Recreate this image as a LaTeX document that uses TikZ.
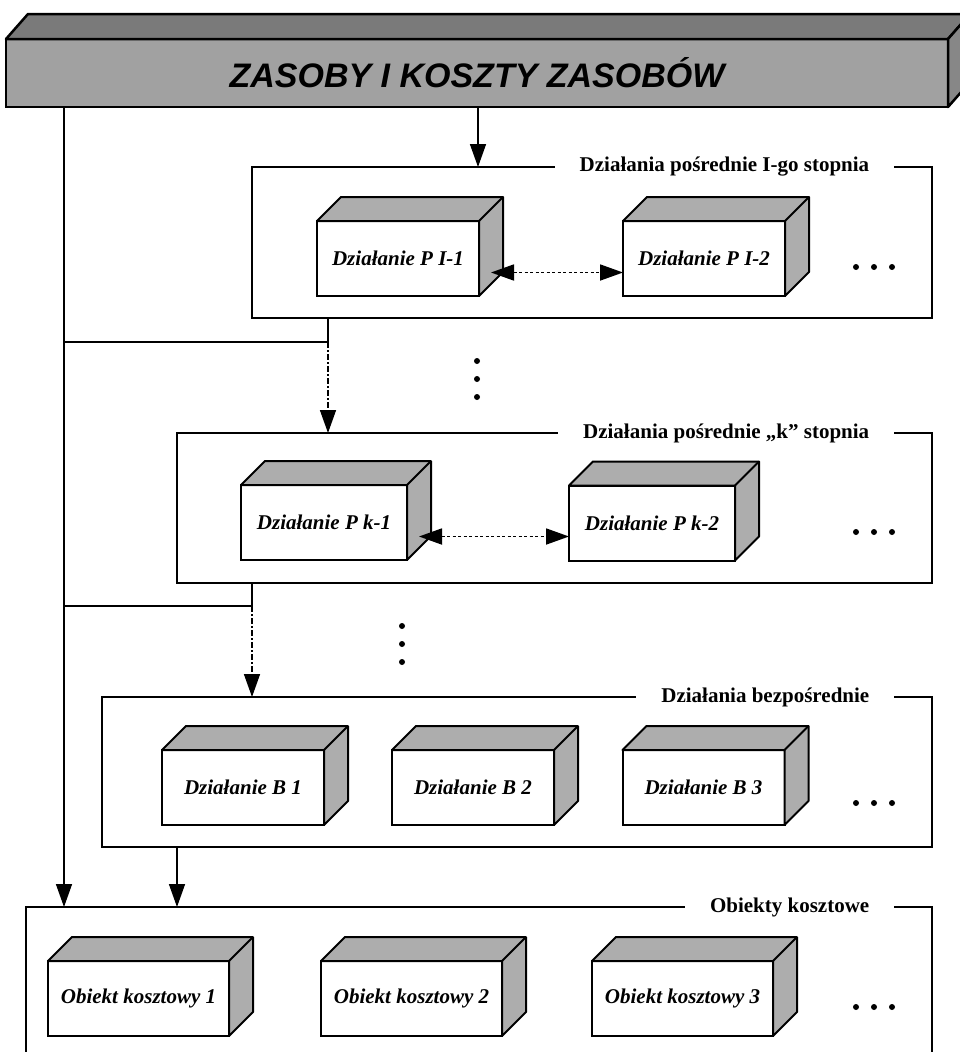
\documentclass[tikz,border=0pt]{standalone}
\usepackage{fontspec}
\setmainfont{Liberation Serif}
\newfontfamily\banerfont{Liberation Sans}
\usepackage{tikz}
\usetikzlibrary{arrows.meta,calc}

\begin{document}
\begin{tikzpicture}[x=1pt,y=-1pt,>={Triangle[length=23pt,width=16pt]},line width=1.5pt,
	dzialanie/.style={draw,fill=white,line width=2pt,outer sep=0pt,minimum width=162pt,minimum height=75pt,
		font=\fontsize{21}{24}\selectfont\bfseries\itshape},
	obiekt/.style={dzialanie,minimum width=181pt},
	sciana/.style={fill=black!32,draw,line width=2pt,line join=round},
	grupa/.style={draw,line width=1.5pt,outer sep=0pt},
	tytul/.style={fill=white,inner xsep=25pt,anchor=east,font=\fontsize{21}{24}\selectfont\bfseries},
	kropki/.style={<->,dash pattern=on 3pt off 2.5pt,line width=1.8pt},
	dashdot/.style={dash pattern=on 6pt off 2pt on 2pt off 2pt}]
	\useasboundingbox (0,0) rectangle (959,1052);

	% zasoby
	\node[draw,fill=black!37,line width=2.5pt,outer sep=0pt,minimum width=942pt,minimum height=68pt,
		font=\banerfont\fontsize{34}{40}\selectfont\bfseries\itshape] (zasoby) at (477,73) {ZASOBY I KOSZTY ZASOBÓW};
	\filldraw[fill=black!52,line width=2.5pt,line join=round] (zasoby.north west) -- ++(22,-25)
		-- ([shift={(22,-25)}]zasoby.north east) -- (zasoby.north east) -- cycle;
	\filldraw[fill=black!47,line width=2.5pt,line join=round] (zasoby.north east) -- ++(22,-25)
		-- ([shift={(22,-25)}]zasoby.south east) -- (zasoby.south east) -- cycle;

	% grupy dzialan
	\node[grupa,minimum width=680pt,minimum height=151pt] (g1) at (592,242.5) {};
	\node[grupa,minimum width=755pt,minimum height=150pt] (g2) at (554.5,508) {};
	\node[grupa,minimum width=830pt,minimum height=150pt] (g3) at (517,772) {};
	\node[grupa,minimum width=906pt,minimum height=170pt] (g4) at (479,992) {};
	\node[tytul] (t1) at ([xshift=-37pt]g1.north east) {Działania pośrednie I-go stopnia};
	\node[tytul] (t2) at ([xshift=-37pt]g2.north east) {Działania pośrednie „k” stopnia};
	\node[tytul] (t3) at ([xshift=-37pt]g3.north east) {Działania bezpośrednie};
	\node[tytul] (t4) at ([xshift=-37pt]g4.north east) {Obiekty kosztowe};

	% dzialania i obiekty
	\node[dzialanie] (pi1) at (398,258.5) {Działanie P I-1};
	\node[dzialanie] (pi2) at (704,258.5) {Działanie P I-2};
	\node[dzialanie,minimum width=166pt] (pk1) at (324,522.5) {Działanie P k-1};
	\node[dzialanie,minimum width=166pt] (pk2) at (652,523) {Działanie P k-2};
	\node[dzialanie] (b1) at (243,787.5) {Działanie B 1};
	\node[dzialanie] (b2) at (473,787.5) {Działanie B 2};
	\node[dzialanie] (b3) at (703.5,787.5) {Działanie B 3};
	\node[obiekt] (o1) at (138.5,998.5) {Obiekt kosztowy 1};
	\node[obiekt] (o2) at (411.5,998.5) {Obiekt kosztowy 2};
	\node[obiekt] (o3) at (682.5,998.5) {Obiekt kosztowy 3};
	\foreach \n in {pi1,pi2,pk1,pk2,b1,b2,b3,o1,o2,o3}{
		\filldraw[sciana] (\n.north west) -- ++(24,-24) -- ([shift={(24,-24)}]\n.north east)
			-- ([shift={(24,-24)}]\n.south east) -- (\n.south east) -- (\n.north east) -- cycle;
		\draw[sciana] (\n.north east) -- ++(24,-24);
	}

	% polaczenia
	\coordinate (lewa) at (64,107);
	\coordinate (wej) at (478,107);
	\coordinate (j1) at (328,342);
	\coordinate (j2) at (252,606);
	\coordinate (wyj) at (177,847);
	\coordinate (s1) at ($(pi1.east)+(12,14)$);
	\coordinate (s2) at ($(pk1.east)+(12,14)$);
	\draw[->] (wej) -- (wej |- g1.north);
	\draw[->] (lewa) -- (lewa |- g4.north);
	\draw (j1 |- g1.south) -- (j1) -- (j1 -| lewa);
	\draw[->,dashdot] (j1) -- (j1 |- g2.north);
	\draw (j2 |- g2.south) -- (j2) -- (j2 -| lewa);
	\draw[->,dashdot] (j2) -- (j2 |- g3.north);
	\draw[->] (wyj |- g3.south) -- (wyj |- g4.north);
	\draw[kropki] (s1) -- (s1 -| pi2.west);
	\draw[kropki] (s2) -- (s2 -| pk2.west);

	% kropki
	\foreach \k in {361,379,397} \fill (477,\k) circle (3pt);
	\foreach \k in {626,644,662} \fill (402,\k) circle (3pt);
	\foreach \k in {267,532,803,1007}
		\foreach \m in {856,874,892} \fill (\m,\k) circle (3pt);
\end{tikzpicture}
\end{document}
